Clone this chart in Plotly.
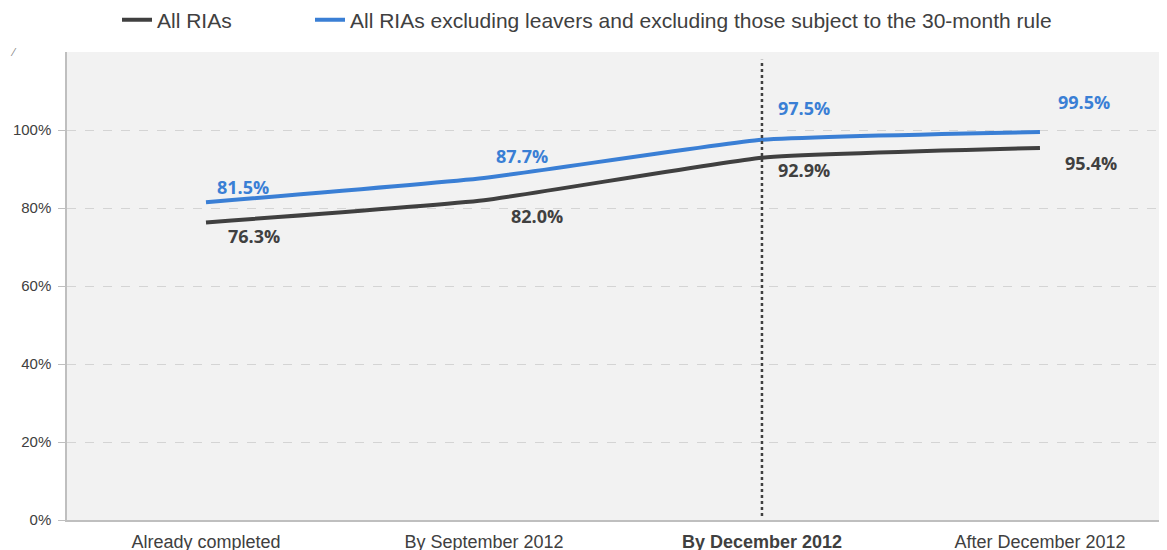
import plotly.graph_objects as go

categories = ["Already completed", "By September 2012", "By December 2012", "After December 2012"]
tick_labels = ["Already completed", "By September 2012", "<b>By December 2012</b>", "After December 2012"]
all_rias = [76.3, 82.0, 92.9, 95.4]
excl_rias = [81.5, 87.7, 97.5, 99.5]
series_names = ["All RIAs", "All RIAs excluding leavers and excluding those subject to the 30-month rule"]

BLACK = "#404040"
BLUE = "#3A7FD5"
xs = list(range(len(categories)))

# page body has an 8px margin; compensate so the plot lands where the reference has it
W, H = 1159, 542

fig = go.Figure()
fig.add_trace(go.Scatter(x=xs, y=all_rias, mode="lines", name=series_names[0], legend="legend",
                         line=dict(color=BLACK, width=4, shape="spline", smoothing=0.4)))
fig.add_trace(go.Scatter(x=xs, y=excl_rias, mode="lines", name=series_names[1], legend="legend2",
                         line=dict(color=BLUE, width=4, shape="spline", smoothing=0.4)))

lab_font = dict(family="Open Sans, Noto Sans, sans-serif", size=18, weight="bold")
blue_shifts = [(37, 15), (38, 22), (42, 32), (44, 30)]
black_shifts = [(48, -14), (53, -16), (42, -12), (51, -15)]
for i, v in enumerate(excl_rias):
    fig.add_annotation(x=i, y=v, text=f"{v:.1f}%", showarrow=False,
                       xshift=blue_shifts[i][0], yshift=blue_shifts[i][1],
                       font=dict(color=BLUE, **lab_font))
for i, v in enumerate(all_rias):
    fig.add_annotation(x=i, y=v, text=f"{v:.1f}%", showarrow=False,
                       xshift=black_shifts[i][0], yshift=black_shifts[i][1],
                       font=dict(color=BLACK, **lab_font))

# small clipped glyph at top-left of the reference
fig.add_annotation(xref="paper", yref="paper", x=-59 / (W - 59), y=1.0, xanchor="left",
                   yanchor="middle", text="⁄", showarrow=False,
                   font=dict(size=11, color="#808080"))

fig.add_shape(type="line", x0=2, x1=2, y0=1, y1=118, xref="x", yref="y",
              line=dict(color="#404040", width=2.5, dash="dot"))

leg_common = dict(orientation="h", xref="container", yref="container",
                  xanchor="left", y=1 - 12 / H, yanchor="middle",
                  font=dict(size=21, color="#404040"), itemwidth=30,
                  bgcolor="rgba(0,0,0,0)")

fig.update_layout(
    width=W, height=H,
    margin=dict(l=59, r=0, t=44, b=30, autoexpand=False),
    paper_bgcolor="white", plot_bgcolor="#F2F2F2",
    font=dict(family="Liberation Sans, Arial, sans-serif", color="#404040"),
    showlegend=True,
    legend=dict(x=109 / W, **leg_common),
    legend2=dict(x=302 / W, **leg_common),
    xaxis=dict(range=[-0.5, 3.457], tickvals=xs, ticktext=tick_labels, automargin=False,
               showgrid=False, zeroline=False, showline=True, linecolor="#BFBFBF", linewidth=1.5,
               ticks="", ticklabelstandoff=5,
               tickfont=dict(size=18, color="#404040"), fixedrange=True),
    yaxis=dict(range=[0, 120], tickvals=[0, 20, 40, 60, 80, 100], automargin=False,
               ticktext=["0%", "20%", "40%", "60%", "80%", "100%"],
               showgrid=True, gridcolor="#D4D4D4", griddash="dash", gridwidth=1,
               zeroline=False, showline=True, linecolor="#BFBFBF", linewidth=1.5,
               ticks="outside", ticklen=7, tickcolor="#BFBFBF", ticklabelstandoff=4,
               tickfont=dict(size=15, color="#404040")),
)

# category boundary tick marks on x-axis
for b in [0.5, 1.5, 2.5]:
    fig.add_shape(type="line", x0=b, x1=b, y0=0, y1=-1.8, xref="x", yref="y",
                  line=dict(color="#BFBFBF", width=1.5), layer="above")

fig.write_html("out.html")
